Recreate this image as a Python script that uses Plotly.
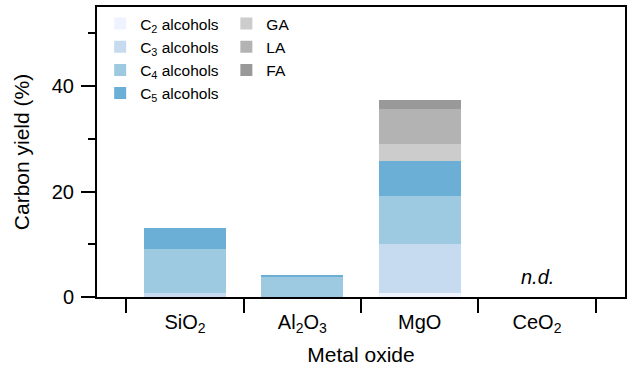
import plotly.graph_objects as go

categories = ["SiO<sub>2</sub>", "Al<sub>2</sub>O<sub>3</sub>", "MgO", "CeO<sub>2</sub>"]

series_names = ["C<sub>2</sub> alcohols", "C<sub>3</sub> alcohols", "C<sub>4</sub> alcohols",
                "C<sub>5</sub> alcohols", "GA", "LA", "FA"]

c2_alcohols = [0.0, 0.0, 0.75, None]
c3_alcohols = [0.75, 0.0, 9.3, None]
c4_alcohols = [8.3, 3.9, 9.05, None]
c5_alcohols = [4.0, 0.15, 6.65, None]
ga = [0.0, 0.0, 3.25, None]
la = [0.0, 0.0, 6.7, None]
fa = [0.0, 0.0, 1.75, None]

series_values = [c2_alcohols, c3_alcohols, c4_alcohols, c5_alcohols, ga, la, fa]
colors = ["#eff3ff", "#c6dbef", "#9ecae1", "#6baed6", "#cccccc", "#b3b3b3", "#999999"]
legends = ["legend", "legend", "legend", "legend", "legend2", "legend2", "legend2"]

y_ticks = [0, 20, 40]

font_family = "Liberation Sans, Arial, Helvetica, sans-serif"

fig = go.Figure()
for name, vals, col, lg in zip(series_names, series_values, colors, legends):
    fig.add_trace(go.Bar(
        x=categories, y=vals, name=name,
        marker=dict(color=col, line=dict(width=0)),
        width=0.7, legend=lg,
    ))

fig.add_annotation(x=categories[3], y=3.7, text="<i>n.d.</i>", showarrow=False,
                   font=dict(size=20, color="black", family=font_family),
                   xref="x", yref="y", yanchor="middle")

legend_common = dict(
    font=dict(size=15.5, color="black", family=font_family),
    bgcolor="rgba(0,0,0,0)", borderwidth=0,
    xanchor="left", yanchor="top", traceorder="normal",
    itemclick=False, itemdoubleclick=False,
)

fig.update_layout(
    width=627, height=370,
    margin=dict(l=97, r=2, t=7, b=73),
    barmode="stack",
    bargap=0.3,
    plot_bgcolor="white",
    paper_bgcolor="white",
    font=dict(family=font_family, color="black", size=20),
    legend=dict(x=0.006, y=1.0, **legend_common),
    legend2=dict(x=0.245, y=1.0, **legend_common),
    xaxis=dict(
        type="category",
        range=[-0.75, 3.75],
        tickson="boundaries",
        ticks="outside", ticklen=14, tickwidth=2, tickcolor="black",
        ticklabelstandoff=6,
        showline=True, linewidth=2, linecolor="black", mirror=True,
        showgrid=False, zeroline=False,
        tickfont=dict(size=20),
        title=dict(text="Metal oxide", font=dict(size=21), standoff=12),
        automargin=False,
    ),
    yaxis=dict(
        range=[0, 55],
        tickvals=y_ticks,
        ticks="outside", ticklen=14, tickwidth=2, tickcolor="black",
        ticklabelstandoff=3,
        minor=dict(dtick=10, tick0=0, ticks="outside", ticklen=7, tickwidth=2,
                   tickcolor="black", showgrid=False),
        showline=True, linewidth=2, linecolor="black", mirror=True,
        showgrid=False, zeroline=False,
        tickfont=dict(size=20),
        title=dict(text="Carbon yield (%)", font=dict(size=21), standoff=16),
        automargin=False,
    ),
)

fig.write_html("out.html", config={"displayModeBar": False},
               post_script="document.body.style.margin='0';")
